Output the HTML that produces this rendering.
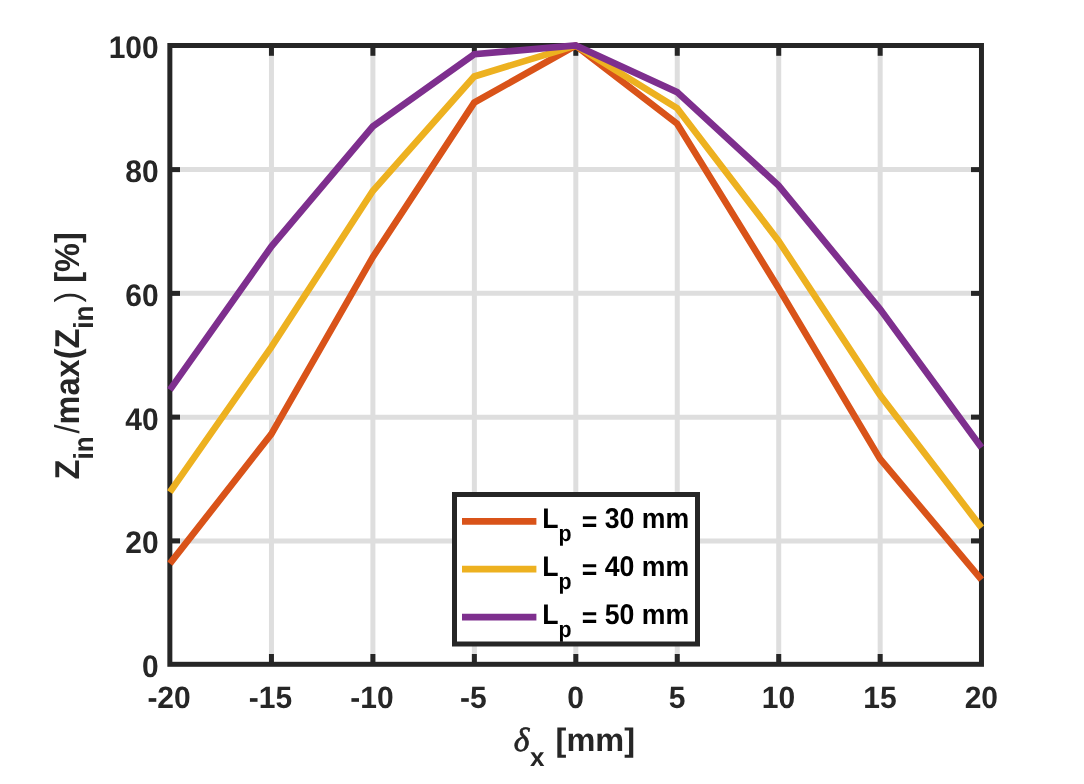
<!DOCTYPE html>
<html lang="en">
<head>
<meta charset="utf-8">
<title>Zin/max(Zin) vs delta x</title>
<style>
html,body{margin:0;padding:0;background:#fff;}
body{width:1084px;height:784px;overflow:hidden;}
svg{display:block;will-change:transform;}
text{font-family:"Liberation Sans",sans-serif;font-weight:bold;text-rendering:geometricPrecision;}
.tick{font-size:30px;fill:#262626;}
.lab{font-size:32.5px;fill:#262626;}
.leg{font-size:26.67px;fill:#000;}
.delta{font-family:"Liberation Serif","DejaVu Serif",serif;font-style:italic;font-weight:normal;stroke:#262626;stroke-width:0.7;}
</style>
</head>
<body>
<svg width="1084" height="784" viewBox="0 0 1084 784">
<rect x="0" y="0" width="1084" height="784" fill="#ffffff"/>

<g stroke="#dedede" stroke-width="5" fill="none">
<line x1="271.45" y1="45.5" x2="271.45" y2="664.3"/>
<line x1="372.90" y1="45.5" x2="372.90" y2="664.3"/>
<line x1="474.36" y1="45.5" x2="474.36" y2="664.3"/>
<line x1="575.81" y1="45.5" x2="575.81" y2="664.3"/>
<line x1="677.26" y1="45.5" x2="677.26" y2="664.3"/>
<line x1="778.72" y1="45.5" x2="778.72" y2="664.3"/>
<line x1="880.17" y1="45.5" x2="880.17" y2="664.3"/>
<line x1="169.85" y1="540.89" x2="981.47" y2="540.89"/>
<line x1="169.85" y1="417.13" x2="981.47" y2="417.13"/>
<line x1="169.85" y1="293.37" x2="981.47" y2="293.37"/>
<line x1="169.85" y1="169.61" x2="981.47" y2="169.61"/>
</g>
<g stroke="#262626" stroke-width="5" fill="none">
<line x1="271.45" y1="664.3" x2="271.45" y2="654.0"/>
<line x1="271.45" y1="45.5" x2="271.45" y2="55.8"/>
<line x1="372.90" y1="664.3" x2="372.90" y2="654.0"/>
<line x1="372.90" y1="45.5" x2="372.90" y2="55.8"/>
<line x1="474.36" y1="664.3" x2="474.36" y2="654.0"/>
<line x1="474.36" y1="45.5" x2="474.36" y2="55.8"/>
<line x1="575.81" y1="664.3" x2="575.81" y2="654.0"/>
<line x1="575.81" y1="45.5" x2="575.81" y2="55.8"/>
<line x1="677.26" y1="664.3" x2="677.26" y2="654.0"/>
<line x1="677.26" y1="45.5" x2="677.26" y2="55.8"/>
<line x1="778.72" y1="664.3" x2="778.72" y2="654.0"/>
<line x1="778.72" y1="45.5" x2="778.72" y2="55.8"/>
<line x1="880.17" y1="664.3" x2="880.17" y2="654.0"/>
<line x1="880.17" y1="45.5" x2="880.17" y2="55.8"/>
<line x1="169.85" y1="540.89" x2="180.00" y2="540.89"/>
<line x1="981.47" y1="540.89" x2="971.02" y2="540.89"/>
<line x1="169.85" y1="417.13" x2="180.00" y2="417.13"/>
<line x1="981.47" y1="417.13" x2="971.02" y2="417.13"/>
<line x1="169.85" y1="293.37" x2="180.00" y2="293.37"/>
<line x1="981.47" y1="293.37" x2="971.02" y2="293.37"/>
<line x1="169.85" y1="169.61" x2="180.00" y2="169.61"/>
<line x1="981.47" y1="169.61" x2="971.02" y2="169.61"/>
<rect x="169.85" y="45.5" width="811.62" height="618.80"/>
</g>
<defs><clipPath id="pk"><rect x="0" y="42.4" width="1084" height="742"/></clipPath></defs>
<g clip-path="url(#pk)">
<polyline points="169.85,563.68 271.30,434.11 372.75,257.13 474.21,102.62 575.66,45.50 677.11,123.65 778.57,288.19 880.02,458.86 981.47,579.59" fill="none" stroke="#D95319" stroke-width="6.67" stroke-linejoin="miter" stroke-linecap="butt"/>
<polyline points="169.85,492.15 271.30,347.17 372.75,190.92 474.21,76.44 575.66,45.50 677.11,108.18 778.57,240.92 880.02,395.12 981.47,527.61" fill="none" stroke="#EDB120" stroke-width="6.67" stroke-linejoin="miter" stroke-linecap="butt"/>
</g>
<polyline points="169.85,389.92 271.30,246.61 372.75,126.56 474.21,54.29 575.66,45.50 677.11,92.10 778.57,185.53 880.02,309.11 981.47,447.47" fill="none" stroke="#7E2F8E" stroke-width="6.67" stroke-linejoin="miter" stroke-linecap="butt"/>
<g class="tick">
<text transform="translate(169.05,707.7) scale(1,1.03)" text-anchor="middle">-20</text>
<text transform="translate(270.50,707.7) scale(1,1.03)" text-anchor="middle">-15</text>
<text transform="translate(371.95,707.7) scale(1,1.03)" text-anchor="middle">-10</text>
<text transform="translate(473.41,707.7) scale(1,1.03)" text-anchor="middle">-5</text>
<text transform="translate(575.56,707.7) scale(1,1.03)" text-anchor="middle">0</text>
<text transform="translate(677.01,707.7) scale(1,1.03)" text-anchor="middle">5</text>
<text transform="translate(778.47,707.7) scale(1,1.03)" text-anchor="middle">10</text>
<text transform="translate(879.92,707.7) scale(1,1.03)" text-anchor="middle">15</text>
<text transform="translate(981.37,707.7) scale(1,1.03)" text-anchor="middle">20</text>
<text transform="translate(158.7,677.20) scale(1,1.04)" text-anchor="end">0</text>
<text transform="translate(158.7,553.44) scale(1,1.04)" text-anchor="end">20</text>
<text transform="translate(158.7,429.68) scale(1,1.04)" text-anchor="end">40</text>
<text transform="translate(158.7,305.92) scale(1,1.04)" text-anchor="end">60</text>
<text transform="translate(158.7,182.16) scale(1,1.04)" text-anchor="end">80</text>
<text transform="translate(158.7,58.40) scale(1,1.04)" text-anchor="end">100</text>
</g>
<text class="lab" font-size="32.5" x="513.7" y="750.6"><tspan class="delta" font-size="33.5">δ</tspan><tspan font-size="26" dx="0.6" dy="15.2">x</tspan><tspan dx="2.2" dy="-15.2"> [mm]</tspan></text>
<text class="lab" font-size="32.5" transform="translate(78.6,479.4) rotate(-90) scale(1,1.06)">Z<tspan font-size="26" dy="14">in</tspan><tspan dx="3" dy="-14" font-weight="normal">/</tspan>max(Z<tspan font-size="26" dy="14">in</tspan><tspan dx="3" dy="-14" font-weight="normal">)</tspan> [%]</text>
<rect x="454.5" y="494.5" width="243" height="149.5" fill="#fff" stroke="#262626" stroke-width="5"/>
<line x1="462" y1="521.30" x2="536.4" y2="521.30" stroke="#D95319" stroke-width="6.67"/>
<text class="leg" transform="translate(542.2,527.90) scale(1,1.07)">L<tspan font-size="21.33" dy="12.5">p</tspan><tspan dx="2.8" dy="-9.2"> =</tspan><tspan dy="-3.3"> 30 mm</tspan></text>
<line x1="462" y1="569.20" x2="536.4" y2="569.20" stroke="#EDB120" stroke-width="6.67"/>
<text class="leg" transform="translate(542.2,575.80) scale(1,1.07)">L<tspan font-size="21.33" dy="12.5">p</tspan><tspan dx="2.8" dy="-9.2"> =</tspan><tspan dy="-3.3"> 40 mm</tspan></text>
<line x1="462" y1="617.10" x2="536.4" y2="617.10" stroke="#7E2F8E" stroke-width="6.67"/>
<text class="leg" transform="translate(542.2,623.70) scale(1,1.07)">L<tspan font-size="21.33" dy="12.5">p</tspan><tspan dx="2.8" dy="-9.2"> =</tspan><tspan dy="-3.3"> 50 mm</tspan></text>
</svg>
</body>
</html>
